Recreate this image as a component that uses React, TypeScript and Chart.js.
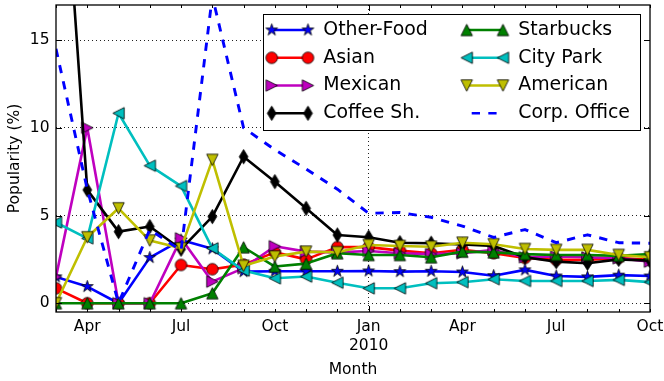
import { useEffect, useRef } from 'react';
import { Chart, registerables } from 'chart.js';

Chart.register(...registerables);

// One point per month, March 2009 through October 2010.
const monthNames = ['Mar', 'Apr', 'May', 'Jun', 'Jul', 'Aug', 'Sep', 'Oct', 'Nov', 'Dec',
  'Jan', 'Feb', 'Mar', 'Apr', 'May', 'Jun', 'Jul', 'Aug', 'Sep', 'Oct'];
const labeledMonths = [1, 4, 7, 10, 13, 16, 19];
const yearStartMonth = 10; // January 2010
const yearLabel = '2010';
const yTicks = [0, 5, 10, 15];

// Popularity (%) per venue type
const otherFood = [1.5, 0.95, 0, 2.6, 3.6, 3.1, 1.8, 1.82, 1.82, 1.82, 1.84, 1.8, 1.82, 1.78, 1.57, 1.9, 1.55, 1.5, 1.6, 1.55];
const asian = [0.85, 0, 0, 0, 2.18, 1.94, 2.2, 2.9, 2.5, 3.2, 3.2, 3.0, 2.85, 3.05, 2.85, 2.58, 2.47, 2.47, 2.58, 2.47];
const mexican = [1.5, 10.0, 0, 0, 3.7, 1.23, 2.0, 3.25, 2.94, 2.9, 2.98, 2.85, 2.8, 2.85, 3.04, 2.62, 2.66, 2.62, 2.56, 2.37];
const coffeeShop = [32, 6.46, 4.08, 4.37, 3.08, 4.94, 8.35, 6.93, 5.41, 3.89, 3.76, 3.45, 3.42, 3.35, 3.26, 2.62, 2.37, 2.28, 2.5, 2.43];
const starbucks = [0, 0, 0, 0, 0, 0.57, 3.19, 2.09, 2.26, 2.85, 2.75, 2.75, 2.62, 2.94, 2.9, 2.8, 2.75, 2.75, 2.7, 2.8];
const cityPark = [4.6, 3.7, 10.83, 7.84, 6.68, 3.13, 1.86, 1.42, 1.52, 1.17, 0.85, 0.85, 1.14, 1.2, 1.37, 1.27, 1.27, 1.27, 1.33, 1.2];
const american = [0, 3.76, 5.41, 3.57, 3.13, 8.17, 2.13, 2.66, 2.94, 2.91, 3.32, 3.26, 3.22, 3.45, 3.36, 3.09, 3.04, 3.04, 2.75, 2.62];
const corpOffice = [14.5, 6.5, 0, 4.2, 3.0, 17.5, 10.0, 8.75, 7.65, 6.5, 5.13, 5.17, 4.9, 4.4, 3.75, 4.2, 3.45, 3.9, 3.45, 3.42];

type MarkerKind = 'star' | 'circle' | 'right' | 'thinDiamond' | 'up' | 'left' | 'down' | 'none';

const series: { label: string; values: number[]; color: string; marker: MarkerKind; dashed?: boolean }[] = [
  { label: 'Other-Food', values: otherFood, color: '#0000ff', marker: 'star' },
  { label: 'Asian', values: asian, color: '#ff0000', marker: 'circle' },
  { label: 'Mexican', values: mexican, color: '#bf00bf', marker: 'right' },
  { label: 'Coffee Sh.', values: coffeeShop, color: '#000000', marker: 'thinDiamond' },
  { label: 'Starbucks', values: starbucks, color: '#008000', marker: 'up' },
  { label: 'City Park', values: cityPark, color: '#00bfbf', marker: 'left' },
  { label: 'American', values: american, color: '#bfbf00', marker: 'down' },
  { label: 'Corp. Office', values: corpOffice, color: '#0000ff', marker: 'none', dashed: true },
];

const FONT = 'DejaVu Sans';
const TICK_SIZE = 15.5;
const LEGEND_SIZE = 18.9;
const LINE_W = 2.6;
const DASH = [8.3, 8.3];

function makeMarker(kind: MarkerKind, fill: string): HTMLCanvasElement {
  const size = kind === 'thinDiamond' ? 17 : 15;
  const c = document.createElement('canvas');
  c.width = size;
  c.height = size;
  const g = c.getContext('2d')!;
  const cx = size / 2;
  const cy = size / 2;
  const h = 5.7;
  g.beginPath();
  switch (kind) {
    case 'circle':
      g.arc(cx, cy, 5.8, 0, Math.PI * 2);
      break;
    case 'star': {
      const R = 6.2;
      const r = R * 0.381966;
      for (let k = 0; k < 10; k++) {
        const a = -Math.PI / 2 + (k * Math.PI) / 5;
        const rr = k % 2 === 0 ? R : r;
        const px = cx + rr * Math.cos(a);
        const py = cy + rr * Math.sin(a);
        if (k === 0) g.moveTo(px, py); else g.lineTo(px, py);
      }
      g.closePath();
      break;
    }
    case 'up':
      g.moveTo(cx, cy - h); g.lineTo(cx + h, cy + h); g.lineTo(cx - h, cy + h); g.closePath();
      break;
    case 'down':
      g.moveTo(cx, cy + h); g.lineTo(cx + h, cy - h); g.lineTo(cx - h, cy - h); g.closePath();
      break;
    case 'left':
      g.moveTo(cx - h, cy); g.lineTo(cx + h, cy - h); g.lineTo(cx + h, cy + h); g.closePath();
      break;
    case 'right':
      g.moveTo(cx + h, cy); g.lineTo(cx - h, cy - h); g.lineTo(cx - h, cy + h); g.closePath();
      break;
    case 'thinDiamond':
      g.moveTo(cx, cy - 7.2); g.lineTo(cx + 4.4, cy); g.lineTo(cx, cy + 7.2); g.lineTo(cx - 4.4, cy); g.closePath();
      break;
    default:
      return c;
  }
  g.fillStyle = fill;
  g.fill();
  g.lineWidth = 0.8;
  g.strokeStyle = '#000';
  g.stroke();
  return c;
}

export default function App() {
  const ref = useRef<HTMLCanvasElement>(null);

  useEffect(() => {
    const markers = series.map((s) => makeMarker(s.marker, s.color));

    const frameTicks = {
      id: 'frameTicks',
      afterDatasetsDraw(chart: any) {
        const { ctx, chartArea: a, scales } = chart;
        const xs = scales.x;
        const ys = scales.y;
        ctx.save();
        ctx.strokeStyle = '#000';
        ctx.lineWidth = 1;
        ctx.beginPath();
        for (let i = 0; i < monthNames.length; i++) {
          const px = Math.round(xs.getPixelForValue(i)) + 0.5;
          const len = i === yearStartMonth ? 6 : 3;
          ctx.moveTo(px, a.bottom); ctx.lineTo(px, a.bottom - len);
          ctx.moveTo(px, a.top); ctx.lineTo(px, a.top + len);
        }
        for (const v of yTicks) {
          const py = Math.round(ys.getPixelForValue(v)) + 0.5;
          ctx.moveTo(a.left, py); ctx.lineTo(a.left + 6, py);
          ctx.moveTo(a.right, py); ctx.lineTo(a.right - 6, py);
        }
        ctx.stroke();
        ctx.lineWidth = 1.3;
        ctx.strokeRect(a.left, a.top, a.right - a.left, a.bottom - a.top);
        ctx.restore();
      },
    };

    const boxLegend = {
      id: 'boxLegend',
      afterDraw(chart: any) {
        const { ctx, chartArea: a } = chart;
        const boxW = 377;
        const boxH = 116;
        const boxLeft = a.right - 10 - boxW;
        const boxTop = a.top + 9;
        ctx.save();
        ctx.fillStyle = '#fff';
        ctx.fillRect(boxLeft, boxTop, boxW, boxH);
        ctx.strokeStyle = '#000';
        ctx.lineWidth = 1;
        ctx.strokeRect(boxLeft + 0.5, boxTop + 0.5, boxW, boxH);
        ctx.font = `${LEGEND_SIZE}px "${FONT}"`;
        ctx.textBaseline = 'middle';
        ctx.textAlign = 'left';
        const colX = [boxLeft + 8.7, boxLeft + 203.7];
        const handleLen = 36.3;
        const textGap = 51.6;
        series.forEach((s, idx) => {
          const col = Math.floor(idx / 4);
          const row = idx % 4;
          const x0 = colX[col];
          const y = boxTop + 16 + row * 27.77;
          ctx.strokeStyle = s.color;
          ctx.lineWidth = LINE_W;
          ctx.beginPath();
          if (s.dashed) {
            ctx.setLineDash(DASH);
            ctx.moveTo(x0 + 5, y); ctx.lineTo(x0 + 30, y);
          } else {
            ctx.setLineDash([]);
            ctx.moveTo(x0, y); ctx.lineTo(x0 + handleLen, y);
          }
          ctx.stroke();
          ctx.setLineDash([]);
          const m = markers[idx];
          if (s.marker !== 'none') {
            ctx.drawImage(m, x0 - m.width / 2, y - m.height / 2);
            ctx.drawImage(m, x0 + handleLen - m.width / 2, y - m.height / 2);
          }
          ctx.fillStyle = '#000';
          ctx.fillText(s.label, x0 + textGap, y);
        });
        ctx.restore();
      },
    };

    const datasets = series.map((s, idx) => ({
      label: s.label,
      data: s.values.map((v, i) => ({ x: i, y: v })),
      borderColor: s.color,
      backgroundColor: s.color,
      borderWidth: s.dashed ? 2.9 : LINE_W,
      borderDash: s.dashed ? DASH : [],
      borderJoinStyle: 'round' as const,
      tension: 0,
      fill: false,
      pointStyle: s.marker === 'none' ? false : markers[idx],
      pointRadius: s.marker === 'none' ? 0 : 6,
      pointHoverRadius: s.marker === 'none' ? 0 : 6,
      order: series.length - 1 - idx,
    }));

    const chart = new Chart(ref.current!, {
      type: 'line',
      data: { datasets },
      plugins: [frameTicks, boxLegend],
      options: {
        animation: false,
        responsive: false,
        devicePixelRatio: 1,
        events: [],
        layout: { autoPadding: false, padding: { left: 0, top: 5, right: 14, bottom: 0 } },
        plugins: { legend: { display: false }, tooltip: { enabled: false } },
        scales: {
          x: {
            type: 'linear',
            min: 0,
            max: monthNames.length - 1,
            afterBuildTicks: (scale: any) => {
              scale.ticks = labeledMonths.map((v) => ({ value: v }));
            },
            afterFit: (scale: any) => {
              scale.height = 69;
              scale.paddingLeft = 0;
              scale.paddingRight = 0;
            },
            ticks: {
              autoSkip: false,
              maxRotation: 0,
              minRotation: 0,
              padding: 6,
              color: '#000',
              font: { family: FONT, size: TICK_SIZE },
              callback: (value: any) => {
                const i = Number(value);
                return i === yearStartMonth ? [monthNames[i], yearLabel] : monthNames[i];
              },
            },
            grid: {
              drawTicks: false,
              color: (c: any) => (c.tick && c.tick.value === yearStartMonth ? '#222' : 'rgba(0,0,0,0)'),
              lineWidth: 1,
            },
            border: { display: false, dash: [1, 3] },
            title: {
              display: true,
              text: 'Month',
              color: '#000',
              font: { family: FONT, size: TICK_SIZE },
              padding: { top: 0, bottom: 1.5 },
            },
          },
          y: {
            type: 'linear',
            min: -0.5,
            max: 17,
            afterBuildTicks: (scale: any) => {
              scale.ticks = yTicks.map((v) => ({ value: v }));
            },
            afterFit: (scale: any) => {
              scale.width = 56;
              scale.paddingTop = 0;
              scale.paddingBottom = 0;
            },
            ticks: {
              padding: 6.5,
              color: '#000',
              font: { family: FONT, size: TICK_SIZE },
              callback: (value: any) => String(value),
            },
            grid: { drawTicks: false, color: '#222', lineWidth: 1 },
            border: { display: false, dash: [1, 3] },
            title: {
              display: true,
              text: 'Popularity (%)',
              color: '#000',
              font: { family: FONT, size: TICK_SIZE },
              padding: { top: 5.2, bottom: 0 },
            },
          },
        },
      },
    } as any);

    return () => chart.destroy();
  }, []);

  return (
    <div style={{ position: 'absolute', left: 0, top: 0, width: 664, height: 381, background: '#fff' }}>
      <canvas ref={ref} width={664} height={381} style={{ display: 'block', width: 664, height: 381 }} />
    </div>
  );
}
